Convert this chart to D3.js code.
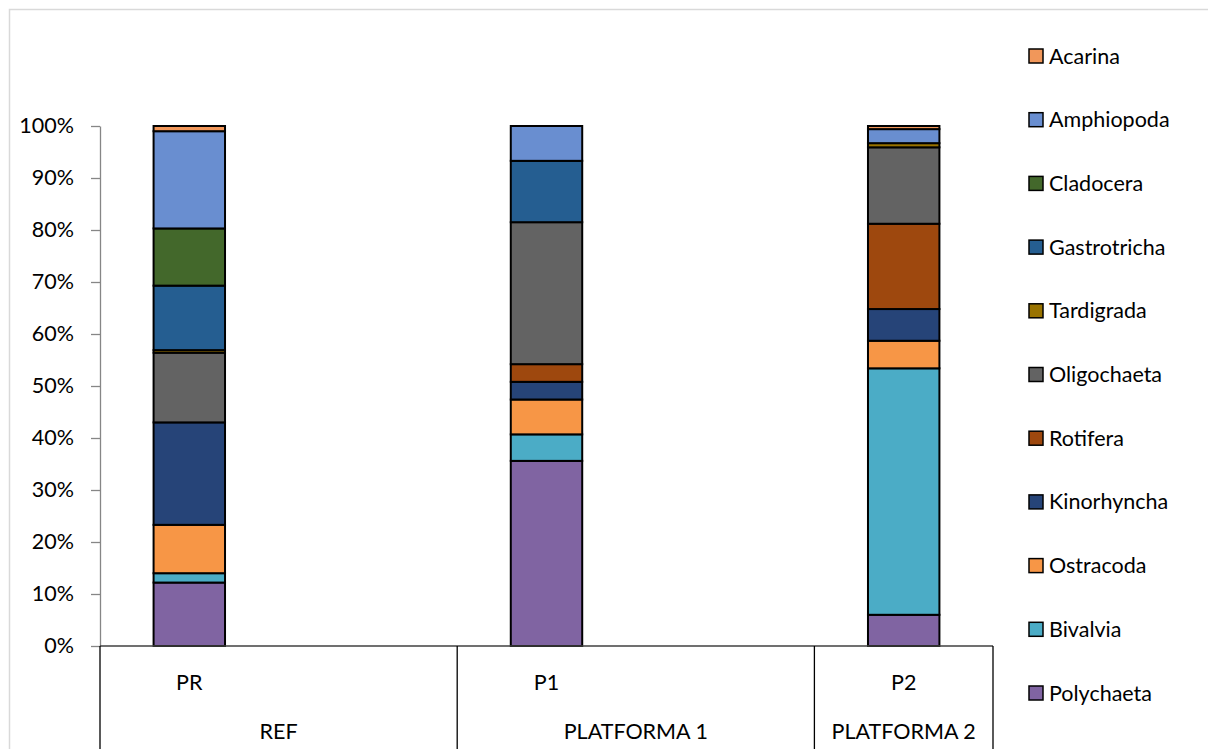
<!DOCTYPE html>
<html>
<head>
<meta charset="utf-8">
<script src="https://cdn.jsdelivr.net/npm/d3@7"></script>
<style>
  body { margin: 0; background: #fff; }
  svg { display: block; font-family: Lato, "Noto Sans", sans-serif; }
</style>
</head>
<body>
<svg id="chart" width="1208" height="749"></svg>
<script>
// inner categories (blank slots keep the Excel spacing)
const sampleLabels = ["PR", "", "P1", "", "P2"];
const groupNames = ["REF", "PLATFORMA 1", "PLATFORMA 2"];
const groupSpans = [2, 2, 1];

// stack order bottom -> top
const taxa = ["Polychaeta", "Bivalvia", "Ostracoda", "Kinorhyncha", "Rotifera",
  "Oligochaeta", "Tardigrada", "Gastrotricha", "Cladocera", "Amphiopoda", "Acarina"];

// percent per taxon, one value per slot (blank slots are null)
const polychaeta   = [12.2, null, 35.6, null, 6.0];
const bivalvia     = [1.8,  null, 5.1,  null, 47.4];
const ostracoda    = [9.3,  null, 6.7,  null, 5.3];
const kinorhyncha  = [19.7, null, 3.4,  null, 6.1];
const rotifera     = [0,    null, 3.4,  null, 16.4];
const oligochaeta  = [13.4, null, 27.3, null, 14.7];
const tardigrada   = [0.5,  null, 0,    null, 0.8];
const gastrotricha = [12.4, null, 11.8, null, 0];
const cladocera    = [11.0, null, 0,    null, 0];
const amphiopoda   = [18.7, null, 6.7,  null, 2.7];
const acarina      = [1.0,  null, 0,    null, 0.6];

const seriesValues = [polychaeta, bivalvia, ostracoda, kinorhyncha, rotifera,
  oligochaeta, tardigrada, gastrotricha, cladocera, amphiopoda, acarina];

const yTicks = [0, 0.1, 0.2, 0.3, 0.4, 0.5, 0.6, 0.7, 0.8, 0.9, 1];

const colors = {
  Polychaeta: "#8064a2",
  Bivalvia: "#4bacc6",
  Ostracoda: "#f79646",
  Kinorhyncha: "#264478",
  Rotifera: "#9e480e",
  Oligochaeta: "#636363",
  Tardigrada: "#997300",
  Gastrotricha: "#255e91",
  Cladocera: "#43682b",
  Amphiopoda: "#698ed0",
  Acarina: "#f1975a"
};

const fontSize = 21.5;
const svg = d3.select("#chart");
const plot = { left: 100, right: 993, top: 126, bottom: 646 };

// outer chart border
svg.append("rect")
  .attr("x", 9.5).attr("y", 9.5)
  .attr("width", 1220).attr("height", 770)
  .attr("fill", "none").attr("stroke", "#d9d9d9").attr("stroke-width", 1.5);

const x = d3.scaleBand()
  .domain(d3.range(sampleLabels.length))
  .range([plot.left, plot.right])
  .paddingInner(0.6)
  .paddingOuter(0.3);

const y = d3.scaleLinear().domain([0, 1]).range([plot.bottom, plot.top]);

// y axis
const yAxis = svg.append("g")
  .attr("transform", `translate(${plot.left},0)`)
  .call(d3.axisLeft(y).tickValues(yTicks).tickFormat(d3.format(".0%"))
    .tickSize(9).tickSizeOuter(0).tickPadding(17));
yAxis.select(".domain").attr("stroke", "#868686").attr("stroke-width", 1.3);
yAxis.selectAll(".tick line").attr("stroke", "#868686").attr("stroke-width", 1.3);
yAxis.selectAll(".tick text")
  .attr("font-size", fontSize).attr("fill", "#000")
  .style("font-family", "Lato, 'Noto Sans', sans-serif");

// stacked data
const stackRows = sampleLabels.map((_, i) => {
  const row = { idx: i };
  taxa.forEach((t, k) => { row[t] = seriesValues[k][i] == null ? 0 : seriesValues[k][i] / 100; });
  return row;
});
const stacked = d3.stack().keys(taxa)(stackRows);

svg.append("g")
  .selectAll("g")
  .data(stacked)
  .join("g")
  .attr("fill", (d) => colors[d.key])
  .selectAll("rect")
  .data((d) => d.filter((s) => s[1] - s[0] > 0))
  .join("rect")
  .attr("x", (d) => x(d.data.idx))
  .attr("y", (d) => y(d[1]))
  .attr("width", x.bandwidth())
  .attr("height", (d) => y(d[0]) - y(d[1]))
  .attr("stroke", "#000")
  .attr("stroke-width", 2);

// category axis (two levels)
svg.append("line")
  .attr("x1", plot.left).attr("x2", plot.right)
  .attr("y1", plot.bottom).attr("y2", plot.bottom)
  .attr("stroke", "#404040").attr("stroke-width", 1.3);

const step = x.step();
let acc = 0;
const bounds = [0];
groupSpans.forEach((s) => { acc += s; bounds.push(acc); });

svg.append("g")
  .selectAll("line")
  .data(bounds)
  .join("line")
  .attr("x1", (d) => plot.left + d * step)
  .attr("x2", (d) => plot.left + d * step)
  .attr("y1", plot.bottom)
  .attr("y2", 760)
  .attr("stroke", "#000")
  .attr("stroke-width", 1.3);

svg.append("g")
  .selectAll("text")
  .data(sampleLabels)
  .join("text")
  .attr("x", (_, i) => x(i) + x.bandwidth() / 2)
  .attr("y", 682)
  .attr("dy", "0.35em")
  .attr("text-anchor", "middle")
  .attr("font-size", fontSize)
  .text((d) => d);

svg.append("g")
  .selectAll("text")
  .data(groupNames)
  .join("text")
  .attr("x", (_, i) => plot.left + (bounds[i] + bounds[i + 1]) / 2 * step)
  .attr("y", 731)
  .attr("dy", "0.35em")
  .attr("text-anchor", "middle")
  .attr("font-size", fontSize)
  .text((d) => d);

// legend, top item is last stack layer
const legendTaxa = taxa.slice().reverse();
const ly = d3.scalePoint().domain(legendTaxa).range([56, 693]);
const legend = svg.append("g")
  .selectAll("g")
  .data(legendTaxa)
  .join("g")
  .attr("transform", (d) => `translate(1029,${ly(d)})`);

legend.append("rect")
  .attr("x", 0).attr("y", -7)
  .attr("width", 14).attr("height", 14)
  .attr("fill", (d) => colors[d])
  .attr("stroke", "#000").attr("stroke-width", 1.5);

legend.append("text")
  .attr("x", 20)
  .attr("dy", "0.35em")
  .attr("font-size", fontSize)
  .text((d) => d);
</script>
</body>
</html>
